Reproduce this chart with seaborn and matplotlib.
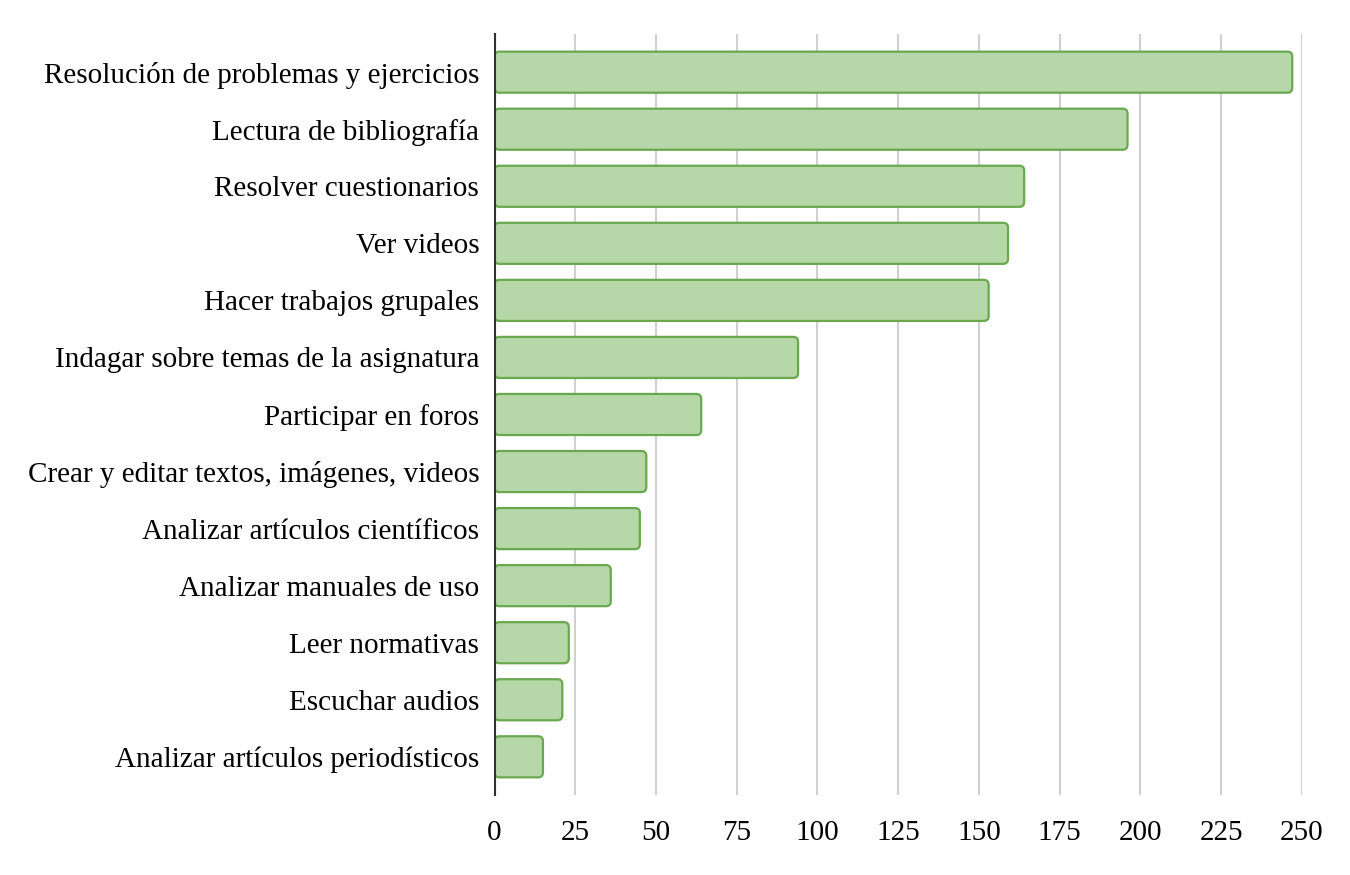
import matplotlib
matplotlib.use("Agg")
import matplotlib.pyplot as plt
import seaborn as sns
import pandas as pd
from matplotlib.patches import FancyBboxPatch

categories = [
    "Resolución de problemas y ejercicios",
    "Lectura de bibliografía",
    "Resolver cuestionarios",
    "Ver videos",
    "Hacer trabajos grupales",
    "Indagar sobre temas de la asignatura",
    "Participar en foros",
    "Crear y editar textos, imágenes, videos",
    "Analizar artículos científicos",
    "Analizar manuales de uso",
    "Leer normativas",
    "Escuchar audios",
    "Analizar artículos periodísticos",
]
values = [247, 196, 164, 159, 153, 94, 64, 47, 45, 36, 23, 21, 15]
x_ticks = [0, 25, 50, 75, 100, 125, 150, 175, 200, 225, 250]

sns.set_theme(style="white")
plt.rcParams["font.family"] = ["Liberation Serif", "DejaVu Serif"]

df = pd.DataFrame({"cat": categories, "val": values})

fig = plt.figure(figsize=(13.5, 8.75), dpi=100)
ax = fig.add_axes([0.3663, 0.0914, 0.5981, 0.8698])

fill = "#b6d7a8"
edge = "#6aa84f"
sns.barplot(data=df, x="val", y="cat", orient="h", color=fill, width=0.72,
            ax=ax, saturation=1)

# replace rectangles by rounded boxes
patches = list(ax.patches)
for p in patches:
    x, y = p.get_x(), p.get_y()
    w, h = p.get_width(), p.get_height()
    p.remove()
    fb = FancyBboxPatch((x, y), w, h,
                        boxstyle="round,pad=0,rounding_size=1.5",
                        mutation_aspect=0.057,
                        facecolor=fill, edgecolor=edge, linewidth=1.6,
                        zorder=3)
    ax.add_patch(fb)

ax.set_xlim(0, 250)
ax.set_ylim(len(categories) - 1 + 0.67, -0.67)
ax.set_xticks(x_ticks)
ax.set_xticklabels([str(t) for t in x_ticks])
ax.set_xlabel("")
ax.set_ylabel("")

ax.grid(axis="x", color="#d0d0d0", linewidth=1.5, zorder=0)
ax.grid(axis="y", visible=False)
ax.set_axisbelow(True)
for s in ["top", "right", "bottom"]:
    ax.spines[s].set_visible(False)
ax.spines["left"].set_color("#303030")
ax.spines["left"].set_linewidth(1.5)
ax.spines["left"].set_zorder(4)

ax.tick_params(axis="y", length=0, pad=11, labelsize=21, labelcolor="black")
ax.tick_params(axis="x", length=0, pad=18, labelsize=21, labelcolor="black")

fig.savefig("out.png", dpi=100)
